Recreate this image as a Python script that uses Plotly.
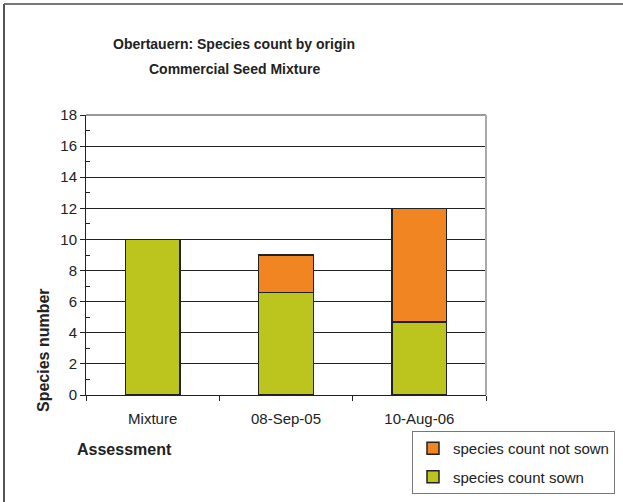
import plotly.graph_objects as go

# Species counts per assessment, split by origin
assessments = ["Mixture", "08-Sep-05", "10-Aug-06"]
sown = [10, 6.6, 4.7]
not_sown = [0, 2.4, 7.3]
y_ticks = [0, 2, 4, 6, 8, 10, 12, 14, 16, 18]

GREEN = "#BCC41E"
ORANGE = "#F08522"
EDGE = "#222222"
FONT = "Liberation Sans, Arial, sans-serif"

# plot area in pixels (for placing free text / frame in paper units)
L, R, T, B = 86, 137, 115, 107
W, H = 623, 502
PW, PH = W - L - R, H - T - B


def px_x(x):
    return (x - L) / PW


def px_y(y):
    return (H - B - y) / PH


fig = go.Figure()
fig.add_trace(go.Bar(
    x=assessments, y=sown, name="species count sown",
    marker=dict(color=GREEN, line=dict(color=EDGE, width=1.5)),
    legendgroup="sown", legendrank=2,
))
fig.add_trace(go.Bar(
    x=assessments, y=not_sown, name="species count not sown",
    marker=dict(color=ORANGE, line=dict(color=EDGE, width=1.5)),
    legendgroup="notsown", legendrank=1,
))

fig.update_layout(
    width=W, height=H,
    margin=dict(l=L, r=R, t=T, b=B, pad=0, autoexpand=False),
    paper_bgcolor="white", plot_bgcolor="white",
    barmode="stack", bargap=0.59,
    font=dict(family=FONT, size=15, color="#222"),
    showlegend=True,
    legend=dict(
        x=px_x(615), y=px_y(431), xanchor="right", yanchor="top",
        traceorder="grouped", tracegroupgap=6,
        bordercolor="#777", borderwidth=1, bgcolor="white",
        font=dict(family=FONT, size=15, color="#222"),
        itemwidth=30,
    ),
    xaxis=dict(
        type="category", showline=True, linecolor=EDGE, linewidth=1,
        ticks="outside", ticklen=5, tickcolor=EDGE, tickson="boundaries",
        showgrid=False, ticklabelstandoff=10, automargin=False,
        tickfont=dict(family=FONT, size=15, color="#222"),
    ),
    yaxis=dict(
        range=[0, 18], tickvals=y_ticks, showline=True, linecolor=EDGE, linewidth=1,
        ticks="outside", ticklen=5, tickcolor=EDGE, automargin=False,
        showgrid=True, gridcolor=EDGE, gridwidth=1, zeroline=False,
        minor=dict(ticks="inside", ticklen=4, dtick=1, tickcolor=EDGE, showgrid=False),
        tickfont=dict(family=FONT, size=15, color="#222"),
    ),
)

# Plot area border (top and right), page frame (top and left)
fig.add_shape(type="line", xref="paper", yref="paper", x0=0, x1=1, y0=1, y1=1,
              line=dict(color="#999", width=2), layer="above")
fig.add_shape(type="line", xref="paper", yref="paper", x0=1, x1=1, y0=0, y1=1,
              line=dict(color="#aaa", width=2), layer="above")
fig.add_shape(type="line", xref="paper", yref="paper",
              x0=px_x(4), x1=px_x(W), y0=px_y(4), y1=px_y(4),
              line=dict(color="#777", width=2))
fig.add_shape(type="line", xref="paper", yref="paper",
              x0=px_x(4), x1=px_x(4), y0=px_y(4), y1=px_y(H),
              line=dict(color="#555", width=2))

# Titles
fig.add_annotation(text="<b>Obertauern: Species count by origin</b>", xref="paper", yref="paper",
                   x=px_x(234), y=px_y(44), showarrow=False, xanchor="center", yanchor="middle",
                   font=dict(family=FONT, size=14, color="#222"))
fig.add_annotation(text="<b>Commercial Seed Mixture</b>", xref="paper", yref="paper",
                   x=px_x(234), y=px_y(69), showarrow=False, xanchor="center", yanchor="middle",
                   font=dict(family=FONT, size=14, color="#222"))
fig.add_annotation(text="<b>Species number</b>", xref="paper", yref="paper",
                   x=px_x(43), y=px_y(350), showarrow=False, textangle=-90,
                   xanchor="center", yanchor="middle",
                   font=dict(family=FONT, size=16, color="#222"))
fig.add_annotation(text="<b>Assessment</b>", xref="paper", yref="paper",
                   x=px_x(124), y=px_y(449), showarrow=False,
                   xanchor="center", yanchor="middle",
                   font=dict(family=FONT, size=16, color="#222"))

fig.write_html("out.html")
